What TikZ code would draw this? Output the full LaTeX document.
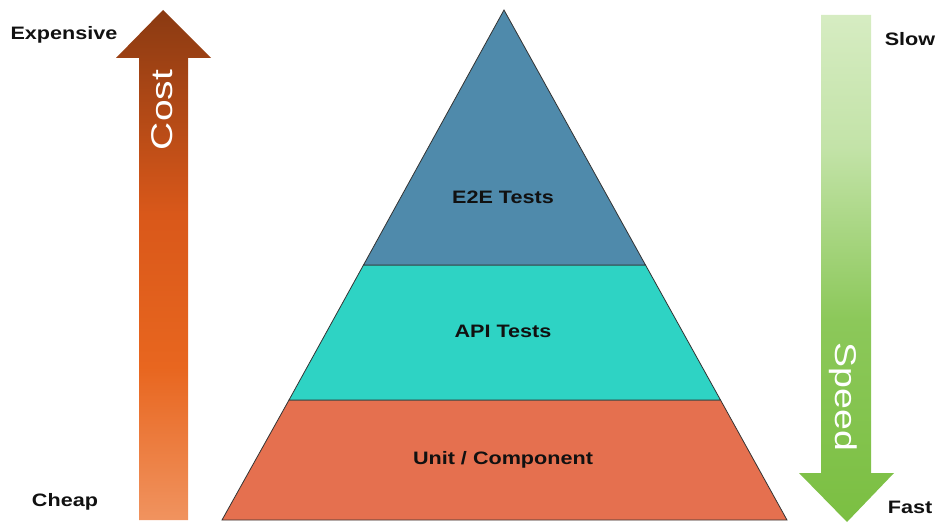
\documentclass[tikz,border=0pt]{standalone}
\usepackage{fontspec}
\setmainfont{Liberation Sans}
\usepackage{graphicx}
\definecolor{e2ecol}{HTML}{4F8AAB}
\definecolor{apicol}{HTML}{2ED3C4}
\definecolor{unitcol}{HTML}{E5704F}
\definecolor{edgecol}{HTML}{333333}
\definecolor{txtcol}{HTML}{111111}
\definecolor{costA}{HTML}{F0935F}
\definecolor{costB}{HTML}{E8661F}
\definecolor{costC}{HTML}{D9581A}
\definecolor{costD}{HTML}{8A3A12}
\definecolor{spdA}{HTML}{7BBF42}
\definecolor{spdB}{HTML}{8CC85A}
\definecolor{spdC}{HTML}{C3E3A8}
\definecolor{spdD}{HTML}{D6ECC2}
\pgfdeclareverticalshading{costshade}{100bp}{%
  color(0bp)=(costA); color(25bp)=(costA);
  color(40bp)=(costB); color(55bp)=(costC);
  color(75bp)=(costD); color(100bp)=(costD)}
\pgfdeclareverticalshading{speedshade}{100bp}{%
  color(0bp)=(spdA); color(25bp)=(spdA);
  color(45bp)=(spdB); color(62bp)=(spdC);
  color(75bp)=(spdD); color(100bp)=(spdD)}
\tikzset{
  band/.style={draw=edgecol, line width=0.8pt, line join=miter},
  lbl/.style={text=txtcol, font=\fontsize{18}{20}\selectfont\bfseries, inner sep=0pt},
  arrlbl/.style={text=white, font=\fontsize{30}{32}\selectfont, inner sep=0pt},
}
\begin{document}
\begin{tikzpicture}[x=1pt,y=-1pt]
\useasboundingbox (0,0) rectangle (937,524);
% cost arrow
\path[shading=costshade] (139,520) -- (139,58) -- (116,58) -- (163,10) -- (211,58) -- (188,58) -- (188,520) -- cycle;
% speed arrow
\path[shading=speedshade] (821,15) -- (871,15) -- (871,473) -- (894,473) -- (847,522) -- (799,473) -- (821,473) -- cycle;
% pyramid
\coordinate (apex) at (504,10);
\coordinate (l1) at (363.5,265);
\coordinate (r1) at (645.5,265);
\coordinate (l2) at (289,400);
\coordinate (r2) at (720.5,400);
\coordinate (l3) at (222,520);
\coordinate (r3) at (787,520);
\draw[band, fill=unitcol] (l2) -- (r2) -- (r3) -- (l3) -- cycle;
\draw[band, fill=apicol] (l1) -- (r1) -- (r2) -- (l2) -- cycle;
\draw[band, fill=e2ecol] (apex) -- (r1) -- (l1) -- cycle;
% labels
\node[lbl] (e2e) at (503,197) {\scalebox{1.2}[1]{E2E Tests}};
\node[lbl] (api) at (503,331) {\scalebox{1.2}[1]{API Tests}};
\node[lbl] (unit) at (503,460) {\scalebox{1.2}[1]{Unit / Component}};
\node[lbl] (exp) at (64,35) {\scalebox{1.2}[1]{Expensive}};
\node[lbl] (cheap) at (65,502) {\scalebox{1.2}[1]{Cheap}};
\node[lbl] (slow) at (910,39) {\scalebox{1.2}[1]{Slow}};
\node[lbl] (fast) at (910,507) {\scalebox{1.2}[1]{Fast}};
\node[arrlbl, rotate=90] (cost) at (162,110) {\scalebox{1.3}[1]{Cost}};
\node[arrlbl, rotate=-90] (speed) at (843,397) {\scalebox{1.25}[1]{Speed}};
\end{tikzpicture}
\end{document}
